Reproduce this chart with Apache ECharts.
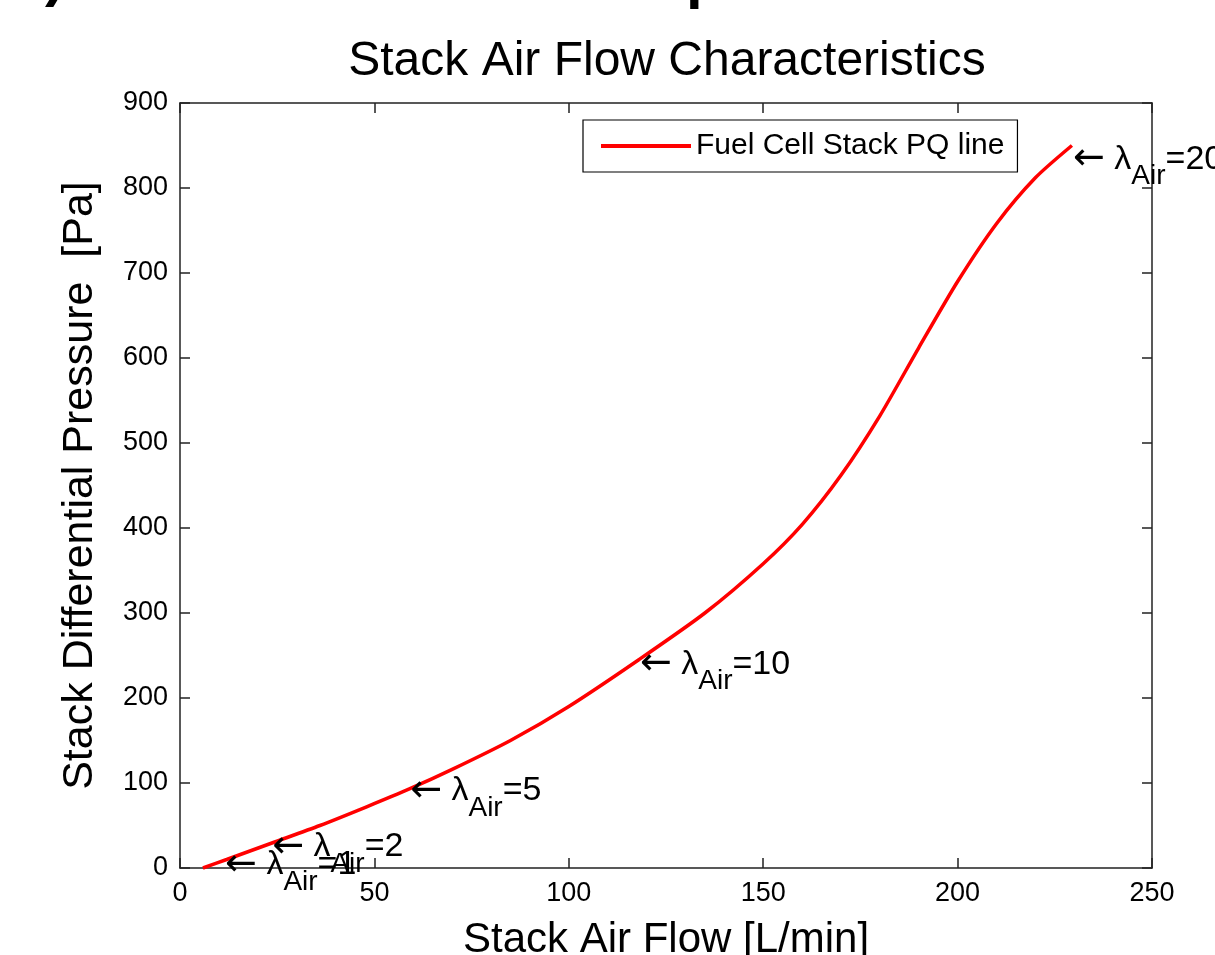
<!DOCTYPE html>
<html>
<head>
<meta charset="utf-8">
<script src="https://cdn.jsdelivr.net/npm/echarts@6/dist/echarts.min.js"></script>
<style>
  html, body { margin: 0; padding: 0; background: #fff; overflow: hidden; }
  #chart { width: 1215px; height: 955px; }
</style>
</head>
<body>
<div id="chart"></div>
<script>
// ---- data ----
const flowValues = [5.9, 12, 24, 36, 48, 59, 70, 85, 100, 118, 135, 150, 160, 170, 180, 190, 200, 210, 220, 229.4];
const pressureValues = [0, 10, 30, 50, 72, 93, 116, 150, 190, 245, 300, 358, 404, 462, 532, 612, 690, 758, 812, 850];
const lambdaValues = [1, 2, 5, 10, 20];
const lambdaFlow = [11.6, 23.7, 59.2, 118.3, 229.7];
const lambdaPressure = [6, 27, 93, 242, 836];
const xTicks = [0, 50, 100, 150, 200, 250];
const yTicks = [0, 100, 200, 300, 400, 500, 600, 700, 800, 900];

const FONT = "'Liberation Sans', Arial, Helvetica, sans-serif";
const ARROW_FONT = "'DejaVu Sans', sans-serif";

const lineData = flowValues.map((x, i) => [x, pressureValues[i]]);
const annotData = lambdaValues.map((l, i) => [lambdaFlow[i], lambdaPressure[i], l]);

const chart = echarts.init(document.getElementById('chart'), null, { renderer: 'canvas' });

const axisLineStyle = { color: '#222', width: 1.5 };

const option = {
  backgroundColor: '#ffffff',
  animation: false,
  title: {
    text: 'Stack Air Flow Characteristics',
    left: 662,
    textAlign: 'center',
    top: 33,
    textStyle: { fontFamily: FONT, fontSize: 48, fontWeight: 'normal', color: '#000' }
  },
  legend: {
    left: 583,
    top: 120,
    padding: [11, 13, 11, 18],
    borderColor: '#000',
    borderWidth: 1.2,
    backgroundColor: '#fff',
    itemWidth: 90,
    itemHeight: 4,
    icon: 'rect',
    textStyle: { fontFamily: FONT, fontSize: 30, color: '#000' },
    data: ['Fuel Cell Stack PQ line']
  },
  grid: { left: 180, right: 63, top: 103, bottom: 87, containLabel: false, outerBoundsMode: 'none' },
  xAxis: [
    {
      type: 'value', min: 0, max: 250, interval: 50, position: 'bottom',
      name: 'Stack Air Flow [L/min]', nameLocation: 'middle', nameGap: 51,
      nameTextStyle: { fontFamily: FONT, fontSize: 42, color: '#000' },
      axisLine: { show: true, onZero: false, lineStyle: axisLineStyle },
      axisTick: { show: true, inside: true, length: 10, lineStyle: axisLineStyle },
      axisLabel: { show: true, margin: 12, fontFamily: FONT, fontSize: 27, color: '#000',
        formatter: v => xTicks.includes(v) ? String(v) : '' },
      splitLine: { show: false }
    },
    {
      type: 'value', min: 0, max: 250, interval: 50, position: 'top',
      axisLine: { show: true, onZero: false, lineStyle: axisLineStyle },
      axisTick: { show: true, inside: true, length: 10, lineStyle: axisLineStyle },
      axisLabel: { show: false }, splitLine: { show: false }
    }
  ],
  yAxis: [
    {
      type: 'value', min: 0, max: 900, interval: 100, position: 'left',
      name: 'Stack Differential Pressure  [Pa]', nameLocation: 'middle', nameGap: 78, nameRotate: 90,
      nameTextStyle: { fontFamily: FONT, fontSize: 43, color: '#000' },
      axisLine: { show: true, onZero: false, lineStyle: axisLineStyle },
      axisTick: { show: true, inside: true, length: 10, lineStyle: axisLineStyle },
      axisLabel: { show: true, margin: 12, fontFamily: FONT, fontSize: 27, color: '#000',
        formatter: v => yTicks.includes(v) ? String(v) : '' },
      splitLine: { show: false }
    },
    {
      type: 'value', min: 0, max: 900, interval: 100, position: 'right',
      axisLine: { show: true, onZero: false, lineStyle: axisLineStyle },
      axisTick: { show: true, inside: true, length: 10, lineStyle: axisLineStyle },
      axisLabel: { show: false }, splitLine: { show: false }
    }
  ],
  series: [
    {
      name: 'Fuel Cell Stack PQ line',
      type: 'line',
      data: lineData,
      smooth: 0.25,
      showSymbol: false,
      symbol: 'none',
      clip: false,
      lineStyle: { color: '#ff0000', width: 3.5 },
      itemStyle: { color: '#ff0000' },
      z: 3
    },
    {
      name: 'annotations',
      type: 'scatter',
      data: annotData,
      symbolSize: 0,
      clip: false,
      silent: true,
      z: 5,
      itemStyle: { opacity: 1, color: '#000' },
      label: {
        show: true,
        position: 'right',
        distance: 0,
        offset: [0, 4],
        color: '#000',
        opacity: 1,
        formatter: p => '{a|\u2190}{m| \u03bb}{s|Air}{m|=' + p.data[2] + '}',
        rich: {
          a: { fontFamily: ARROW_FONT, fontSize: 38, lineHeight: 38, color: '#000', verticalAlign: 'top', padding: [-2, 0, 0, 0] },
          m: { fontFamily: FONT, fontSize: 34, lineHeight: 34, color: '#000', verticalAlign: 'top' },
          s: { fontFamily: FONT, fontSize: 28, lineHeight: 28, color: '#000', verticalAlign: 'top', padding: [20, 0, 0, 0] }
        }
      }
    }
  ],
  graphic: [
    { type: 'text', left: 45, top: -52, style: { text: ')', font: 'bold 60px ' + FONT, fill: '#000' } },
    { type: 'text', left: 686, top: -50, style: { text: 'p', font: 'bold 60px ' + FONT, fill: '#000' } }
  ]
};

chart.setOption(option);
</script>
</body>
</html>
